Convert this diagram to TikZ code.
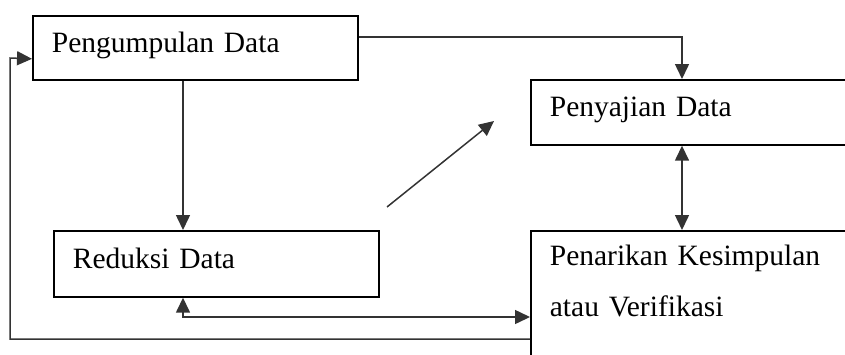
\documentclass[tikz,border=0pt]{standalone}
\usepackage{fontspec}
\setmainfont{Liberation Serif}
\usetikzlibrary{arrows.meta, positioning, calc}

\begin{document}
\begin{tikzpicture}[x=1pt, y=-1pt,
    box/.style={draw, line width=1.7pt, anchor=north west, inner xsep=19pt, align=left,
      font=\fontsize{29.5}{51}\selectfont, text height=19pt, text depth=10pt},
    arr/.style={-{Triangle[length=15pt,width=14pt]}, line width=1.5pt, black!80},
    arr2/.style={{Triangle[length=15pt,width=14pt]}-{Triangle[length=15pt,width=14pt]}, line width=1.5pt, black!80}]
    \useasboundingbox (0,0) rectangle (845,354);
    \clip (0,0) rectangle (845,354);

    \node[box, minimum width=325pt, minimum height=64pt, text width=287pt] at (32,15) (kumpul) {Pengumpulan Data};
    \node[box, minimum width=340pt, minimum height=65pt, text width=302pt] at (530,79) (saji) {Penyajian Data};
    \node[box, minimum width=325pt, minimum height=66pt, text width=287pt] at (53,230) (reduksi) {Reduksi Data};
    \node[box, minimum width=340pt, text width=302pt, inner ysep=16pt, text depth=160pt] at (530,230) (tarik) {Penarikan Kesimpulan\\atau Verifikasi};

    \draw[arr] ([yshift=11pt]kumpul.east) -| ([xshift=152pt]saji.north west);

    \coordinate (ka) at ([xshift=151pt]kumpul.south west);
    \draw[arr] (ka) -- (ka |- reduksi.north);

    \coordinate (d1) at (387,207);
    \coordinate (d2) at (494,121);
    \draw[arr] (d1) -- (d2);

    \draw[arr2] ([xshift=152pt]saji.south west) -- ([xshift=152pt]tarik.north west);
    \draw[arr2] ([xshift=130pt]reduksi.south west) |- ([yshift=-87pt]tarik.north west);

    \coordinate (balik) at (10,58);
    \draw[arr] ([yshift=-109pt]tarik.north west) -| (balik) -- ([yshift=-11pt]kumpul.west);

  \end{tikzpicture}
\end{document}
